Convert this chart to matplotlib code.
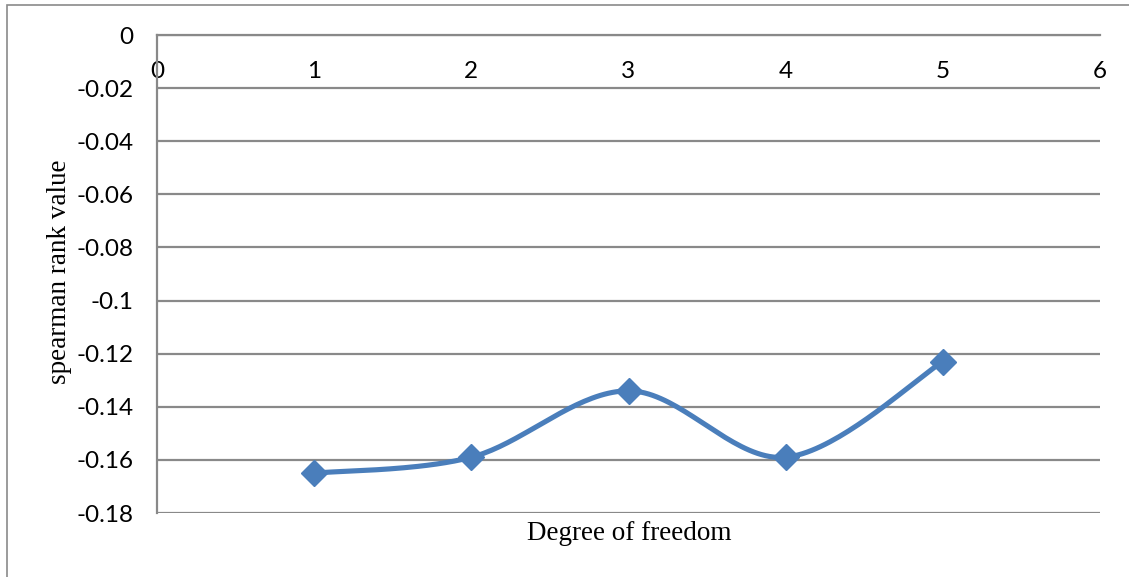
import numpy as np
import matplotlib.pyplot as plt
from matplotlib.patches import Rectangle

degrees = [1, 2, 3, 4, 5]
spearman = [-0.165, -0.159, -0.134, -0.159, -0.123]
x_ticks = [0, 1, 2, 3, 4, 5, 6]
y_ticks = [0, -0.02, -0.04, -0.06, -0.08, -0.1, -0.12, -0.14, -0.16, -0.18]
y_tick_labels = ["0", "-0.02", "-0.04", "-0.06", "-0.08", "-0.1", "-0.12", "-0.14", "-0.16", "-0.18"]

LINE_BLUE = "#4A7EBB"
GRID_GRAY = "#898989"
W, H = 1129, 577


def smooth_curve(xs, ys, n=40):
    # cubic bezier segments with catmull-rom style control points
    xs = np.asarray(xs, float)
    ys = np.asarray(ys, float)
    px = np.r_[xs[0], xs, xs[-1]]
    py = np.r_[ys[0], ys, ys[-1]]
    out_x, out_y = [], []
    t = np.linspace(0, 1, n)
    for i in range(1, len(px) - 2):
        p0 = np.array([px[i], py[i]])
        p3 = np.array([px[i + 1], py[i + 1]])
        c1 = p0 + (np.array([px[i + 1], py[i + 1]]) - np.array([px[i - 1], py[i - 1]])) / 6
        c2 = p3 - (np.array([px[i + 2], py[i + 2]]) - np.array([px[i], py[i]])) / 6
        b = ((1 - t) ** 3)[:, None] * p0 + (3 * (1 - t) ** 2 * t)[:, None] * c1 \
            + (3 * (1 - t) * t ** 2)[:, None] * c2 + (t ** 3)[:, None] * p3
        out_x.extend(b[:, 0])
        out_y.extend(b[:, 1])
    return out_x, out_y


fig = plt.figure(figsize=(W / 100, H / 100), dpi=100)
ax = fig.add_axes([157 / W, 1 - 513 / H, (1100 - 157) / W, (513 - 35) / H])

cx, cy = smooth_curve(degrees, spearman)
ax.plot(cx, cy, color=LINE_BLUE, lw=3.7, solid_capstyle="round", zorder=3)
ax.plot(degrees, spearman, linestyle="none", marker="D", markersize=13,
        color=LINE_BLUE, zorder=4)

ax.set_xlim(0, 6)
ax.set_ylim(-0.18, 0)
ax.set_xticks(x_ticks)
ax.set_yticks(y_ticks)
ax.set_yticklabels(y_tick_labels)
ax.yaxis.grid(True, color=GRID_GRAY, lw=1.6)
ax.set_axisbelow(True)

ax.spines["top"].set_visible(False)
ax.spines["right"].set_visible(False)
ax.spines["bottom"].set_position(("data", 0))
for side in ("bottom", "left"):
    ax.spines[side].set_color(GRID_GRAY)
    ax.spines[side].set_linewidth(1.6)

ax.tick_params(axis="both", length=0, labelsize=17.5)
ax.tick_params(axis="y", pad=17)
ax.tick_params(axis="x", pad=19)
for lab in ax.get_xticklabels() + ax.get_yticklabels():
    lab.set_fontfamily("Lato")

fig.text(629 / W, 1 - 533 / H, "Degree of freedom", family="Liberation Serif",
         fontsize=19.5, ha="center", va="center")
fig.text(60 / W, 1 - 272 / H, "spearman rank value", family="Liberation Serif",
         fontsize=19.5, ha="center", va="center", rotation=90)

# chart frame
fig.patches.append(Rectangle((7 / W, -0.1), 1.2, 1 - 5 / H + 0.1, transform=fig.transFigure,
                             fill=False, edgecolor="#8a8a8a", lw=1.2))

fig.savefig("out.png", dpi=100, facecolor="white")
